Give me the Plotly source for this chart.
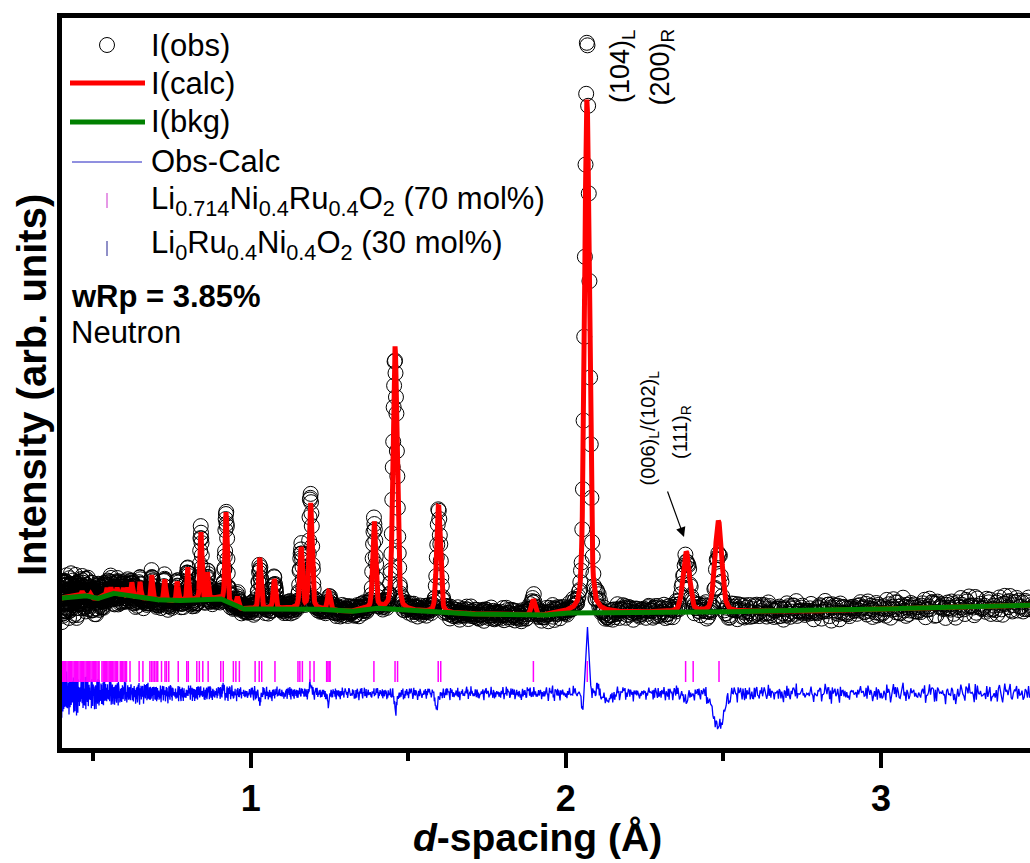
import numpy as np
import plotly.graph_objects as go

# ---------------- data ----------------
# reflections of the calculated profile: position (Å), height (arb.), FWHM (Å)
PEAK_D = [0.465, 0.492, 0.544, 0.556, 0.576, 0.596, 0.610, 0.623, 0.649, 0.686, 0.727,
          0.767, 0.800, 0.842, 0.863, 0.922, 0.958, 1.029, 1.075, 1.160, 1.190, 1.248,
          1.392, 1.458, 1.596, 1.896, 2.067, 2.382, 2.484]
PEAK_H = [4, 3, 7, 6, 6, 7, 8, 14, 16, 24, 21,
          19, 33, 67, 26, 90, 10, 51, 29, 60, 105, 18,
          86, 263, 107, 16, 514, 60, 91]
PEAK_W = [0.005, 0.005, 0.005, 0.005, 0.005, 0.005, 0.005, 0.005, 0.005, 0.006, 0.006,
          0.006, 0.006, 0.007, 0.006, 0.008, 0.007, 0.009, 0.009, 0.010, 0.011, 0.010,
          0.011, 0.015, 0.014, 0.014, 0.018, 0.024, 0.025]

# background knots
BKG_D = [0.40, 0.47, 0.51, 0.56, 0.65, 0.75, 0.90, 0.97, 1.18, 1.31, 1.39, 1.60, 1.92, 1.98, 2.78, 3.48]
BKG_Y = [153, 156, 152, 158, 153, 150, 153, 142, 143, 139, 143, 138, 135, 138, 140, 146]

# systematic misfit features (obs - calc): position, amplitude, width
RES_D = [0.913, 1.030, 1.190, 1.246, 1.460, 1.590, 2.052, 2.069, 2.100, 2.130, 2.380, 2.484]
RES_A = [7, -9, 11, -10, -17, -15, -14, 62, 6, -7, -6, -33]
RES_W = [0.006, 0.006, 0.008, 0.008, 0.010, 0.010, 0.008, 0.011, 0.010, 0.030, 0.020, 0.040]

# counting-noise envelope and hand-typed noise sequences
NOISE_D = [0.40, 0.45, 0.50, 0.60, 0.80, 1.20, 2.00, 3.48]
NOISE_AMP = [26, 22, 17, 12, 9, 7, 8, 12]
NOISE_A = [0.3, -0.8, 0.5, 0.1, -0.4, 0.9, -0.2, -0.7, 0.6, 0.2, -0.5, 0.8, -0.9, 0.4, 0.0,
           -0.3, 0.7, -0.6, 0.2, 0.5, -0.1, -0.8, 0.9, -0.4, 0.3, 0.6, -0.7, 0.1, -0.2, 0.8,
           -0.5, 0.4, -0.9, 0.2, 0.7, -0.3, 0.0, -0.6, 0.5, 0.9, -0.4, 0.1, -0.8, 0.3, 0.6,
           -0.2, -0.5, 0.8, -0.1, 0.4]
NOISE_B = [-0.4, 0.6, 0.2, -0.9, 0.5, -0.1, 0.7, -0.6, 0.3, 0.0, -0.8, 0.4, 0.9, -0.3, -0.5,
           0.1, 0.6, -0.7, 0.2, 0.8, -0.2, -0.4, 0.5, -0.9, 0.3, 0.7, -0.1, -0.6, 0.4, 0.1,
           -0.8, 0.9, -0.3, 0.2, -0.5, 0.6, 0.0]

# reflection markers, phase 1 (Li0.714Ni0.4Ru0.4O2)
TICK_D = [0.402, 0.406, 0.410, 0.413, 0.417, 0.421, 0.425, 0.429, 0.432, 0.436, 0.440, 0.444,
          0.448, 0.451, 0.455, 0.459, 0.463, 0.467, 0.470, 0.474, 0.478, 0.482, 0.486, 0.489,
          0.493, 0.497, 0.501, 0.505, 0.508, 0.512, 0.516, 0.519,
          0.528, 0.532, 0.536, 0.540, 0.543, 0.547, 0.551, 0.555, 0.559, 0.562, 0.566, 0.570,
          0.574, 0.578, 0.586, 0.590, 0.594, 0.598, 0.602, 0.606,
          0.617, 0.646, 0.658, 0.680, 0.685, 0.690, 0.695, 0.700, 0.705, 0.717, 0.728, 0.733,
          0.740, 0.770, 0.797, 0.802, 0.829, 0.837, 0.848, 0.865, 0.905, 0.913, 0.945, 0.953,
          0.964, 1.014, 1.027, 1.035, 1.077, 1.150, 1.156, 1.164, 1.188, 1.201, 1.241, 1.245,
          1.249, 1.252, 1.391, 1.458, 1.466, 1.595, 1.603, 1.897, 2.068, 2.380, 2.404, 2.486]
TICK_ROW = 79.5
DIFF_OFFSET = 57.5

X_TICKS = [1, 2, 3]
X_MINOR = [0.5, 1.5, 2.5]

# ---------------- build the profile ----------------
D = 0.40 * 1.001 ** np.arange(2170)


def pv(x, c, w, eta=0.3):
    g = np.exp(-4 * np.log(2) * (x - c) ** 2 / w ** 2)
    l = 1.0 / (1.0 + 4 * (x - c) ** 2 / w ** 2)
    return (1 - eta) * g + eta * l


bkg = np.interp(D, BKG_D, BKG_Y)
calc = bkg.copy()
for c, h, w in zip(PEAK_D, PEAK_H, PEAK_W):
    calc += h * pv(D, c, w)

na = np.array(NOISE_A)
nb = np.array(NOISE_B)
idx = np.arange(len(D))
noise = 0.6 * na[idx % len(na)] + 0.5 * nb[(idx * 3) % len(nb)]
resid = np.interp(D, NOISE_D, NOISE_AMP) * noise
for c, a, w in zip(RES_D, RES_A, RES_W):
    resid += a * np.exp(-4 * np.log(2) * (D - c) ** 2 / w ** 2)

obs = calc + resid
diff = resid + DIFF_OFFSET

# ---------------- layout geometry (pixels of the 1030x863 page) ----------------
L, R, T, B = 62, 1030, 18, 748
X0 = 1 + (L - 250.7) / 315.15
X1 = 1 + (R - 250.7) / 315.15


def xp(p):
    return (p - L) / (R - L)


def yp(p):
    return (B - p) / (B - T)


FONT = "Liberation Sans, Arial, sans-serif"

fig = go.Figure()
fig.add_trace(go.Scatter(x=D, y=obs, mode="markers", name="I(obs)",
                         marker=dict(symbol="circle-open", size=15, color="black",
                                     line=dict(width=1, color="black")),
                         showlegend=False))
fig.add_trace(go.Scatter(x=D, y=calc, mode="lines", name="I(calc)",
                         line=dict(color="#FF0000", width=5), showlegend=False))
fig.add_trace(go.Scatter(x=D, y=bkg, mode="lines", name="I(bkg)",
                         line=dict(color="#008000", width=5), showlegend=False))
fig.add_trace(go.Scatter(x=D, y=diff, mode="lines", name="Obs-Calc",
                         line=dict(color="#0000FF", width=1.3), showlegend=False))
fig.add_trace(go.Scatter(x=TICK_D, y=[TICK_ROW] * len(TICK_D), mode="markers",
                         name="Li0.714Ni0.4Ru0.4O2",
                         marker=dict(symbol="line-ns", size=15, color="#FF00FF",
                                     line=dict(width=1.5, color="#FF00FF")),
                         showlegend=False))

shapes = []
ann = []

# manual legend
shapes.append(dict(type="circle", xref="paper", yref="paper", xsizemode="pixel", ysizemode="pixel",
                   xanchor=xp(107), yanchor=yp(45), x0=-7.5, x1=7.5, y0=-7.5, y1=7.5,
                   line=dict(color="black", width=1)))
shapes.append(dict(type="line", xref="paper", yref="paper", x0=xp(70), x1=xp(145), y0=yp(83), y1=yp(83),
                   line=dict(color="#FF0000", width=5)))
shapes.append(dict(type="line", xref="paper", yref="paper", x0=xp(70), x1=xp(145), y0=yp(122), y1=yp(122),
                   line=dict(color="#008000", width=5)))
shapes.append(dict(type="line", xref="paper", yref="paper", x0=xp(72), x1=xp(142), y0=yp(162), y1=yp(162),
                   line=dict(color="#2020C0", width=1)))
shapes.append(dict(type="line", xref="paper", yref="paper", x0=xp(107), x1=xp(107), y0=yp(193), y1=yp(208),
                   line=dict(color="#CC33CC", width=1)))
shapes.append(dict(type="line", xref="paper", yref="paper", x0=xp(107), x1=xp(107), y0=yp(241), y1=yp(256),
                   line=dict(color="#202090", width=1)))

LEG_SIZE = 31
legend_rows = [("I(obs)", 45), ("I(calc)", 83), ("I(bkg)", 122), ("Obs-Calc", 162),
               ("Li<sub>0.714</sub>Ni<sub>0.4</sub>Ru<sub>0.4</sub>O<sub>2</sub> (70 mol%)", 201),
               ("Li<sub>0</sub>Ru<sub>0.4</sub>Ni<sub>0.4</sub>O<sub>2</sub> (30 mol%)", 245)]
for t, yy in legend_rows:
    ann.append(dict(x=xp(149), y=yp(yy), xref="paper", yref="paper", text=t, showarrow=False,
                    xanchor="left", yanchor="middle",
                    font=dict(family=FONT, size=LEG_SIZE, color="black")))
ann.append(dict(x=xp(69), y=yp(296), xref="paper", yref="paper", text="<b>wRp = 3.85%</b>",
                showarrow=False, xanchor="left", yanchor="middle",
                font=dict(family=FONT, size=LEG_SIZE, color="black")))
ann.append(dict(x=xp(69), y=yp(333), xref="paper", yref="paper", text="Neutron", showarrow=False,
                xanchor="left", yanchor="middle", font=dict(family=FONT, size=LEG_SIZE, color="black")))

# peak labels
ann.append(dict(x=xp(622), y=yp(27), xref="paper", yref="paper", text="(104)<sub>L</sub>", textangle=-90,
                showarrow=False, xanchor="center", yanchor="top",
                font=dict(family=FONT, size=27, color="black")))
ann.append(dict(x=xp(661), y=yp(27), xref="paper", yref="paper", text="(200)<sub>R</sub>", textangle=-90,
                showarrow=False, xanchor="center", yanchor="top",
                font=dict(family=FONT, size=27, color="black")))
ann.append(dict(x=xp(649), y=yp(488), xref="paper", yref="paper", text="(006)<sub>L</sub>/(102)<sub>L</sub>",
                textangle=-90, showarrow=False, xanchor="center", yanchor="bottom",
                font=dict(family=FONT, size=20, color="black")))
ann.append(dict(x=xp(681), y=yp(432), xref="paper", yref="paper", text="(111)<sub>R</sub>",
                textangle=-90, showarrow=False, xanchor="center", yanchor="middle",
                font=dict(family=FONT, size=20, color="black")))
ann.append(dict(x=xp(684), y=yp(537), xref="paper", yref="paper", text="", showarrow=True,
                ax=-17, ay=-47, arrowhead=2, arrowsize=1.6, arrowwidth=1.2, arrowcolor="black"))

# axis titles
ann.append(dict(x=xp(32), y=yp(385), xref="paper", yref="paper", text="<b>Intensity (arb. units)</b>",
                textangle=-90, showarrow=False, xanchor="center", yanchor="middle",
                font=dict(family=FONT, size=40, color="black")))
ann.append(dict(x=xp(537), y=yp(837), xref="paper", yref="paper", text="<b><i>d</i>-spacing (Å)</b>",
                showarrow=False, xanchor="center", yanchor="middle",
                font=dict(family=FONT, size=39, color="black")))

fig.update_layout(
    width=1030, height=863,
    margin=dict(l=L, r=1030 - R, t=T, b=863 - B),
    paper_bgcolor="white", plot_bgcolor="white",
    shapes=shapes, annotations=ann, showlegend=False,
    xaxis=dict(range=[X0, X1], tickmode="array", tickvals=X_TICKS, ticktext=[str(v) for v in X_TICKS],
               ticks="outside", ticklen=15, tickwidth=4, tickcolor="black",
               showline=True, linewidth=5, linecolor="black", mirror=True,
               showgrid=False, zeroline=False,
               tickfont=dict(family=FONT, size=36, color="black", weight="bold"),
               minor=dict(tickmode="array", tickvals=X_MINOR, ticks="outside",
                          ticklen=8, tickwidth=4, tickcolor="black", showgrid=False)),
    yaxis=dict(range=[3, 733], showline=True, linewidth=5, linecolor="black", mirror=False,
               ticks="", showticklabels=False, showgrid=False, zeroline=False),
)

fig.write_html("out.html")
